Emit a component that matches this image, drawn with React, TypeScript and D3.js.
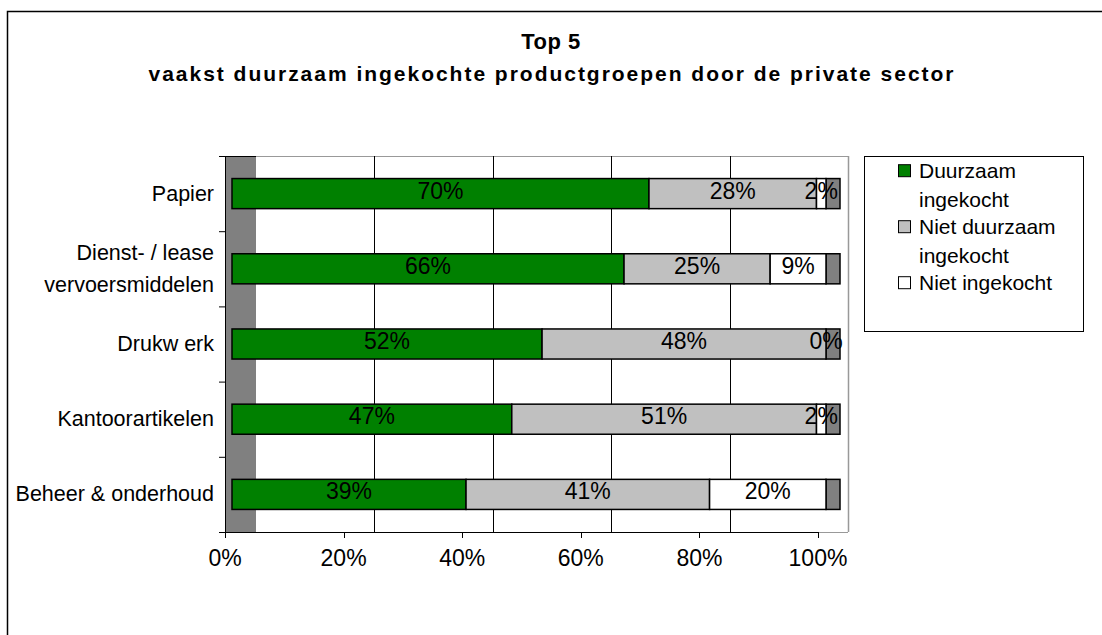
import React from "react";
import * as d3 from "d3";

// data (percentages)
const categories = [
  "Papier",
  "Dienst- / lease\nvervoersmiddelen",
  "Drukw erk",
  "Kantoorartikelen",
  "Beheer & onderhoud",
];
const duurzaam = [70.2, 66.0, 52.2, 47.1, 39.4];
const nietDuurzaam = [28.2, 24.6, 47.8, 51.3, 41.0];
const nietIngekocht = [1.6, 9.4, 0, 1.6, 19.6];
const xTicks = [0, 20, 40, 60, 80, 100];
const seriesKeys = ["duurzaam", "nietDuurzaam", "nietIngekocht"];
const seriesLabels = ["Duurzaam\ningekocht", "Niet duurzaam\ningekocht", "Niet ingekocht"];
const seriesColors = ["#008000", "#C0C0C0", "#FFFFFF"];

const FONT = "'Liberation Sans', Arial, sans-serif";
const W = 1102;
const H = 635;

const App: React.FC = () => {
  const top = 156;
  const bottom = 532;
  const depth = 14;

  const y = d3.scaleBand().domain(categories).range([top, bottom]).paddingInner(0.6).paddingOuter(0.3);
  const yEdges = d3.scaleBand().domain(categories).range([top, bottom]);
  const xAxis = d3.scaleLinear().domain([0, 100]).range([225, 818]);
  const xBack = d3.scaleLinear().domain([0, 100]).range([256, 848]);
  const xBar = d3.scaleLinear().domain([0, 100]).range([232, 826]);

  const rows = categories.map((c, i) => ({
    cat: c,
    duurzaam: duurzaam[i],
    nietDuurzaam: nietDuurzaam[i],
    nietIngekocht: nietIngekocht[i],
  }));
  const stacked = d3.stack<any>().keys(seriesKeys)(rows);
  const fmt = (v: number) => Math.round(v) + "%";

  return (
    <svg
      width={W}
      height={H}
      style={{ position: "absolute", left: 0, top: 0, background: "#fff" }}
      fontFamily={FONT}
    >
      <rect x={7.5} y={11.5} width={W + 20} height={H + 20} fill="#fff" stroke="#000" strokeWidth={1.5} />

      {/* title */}
      <text x={551} y={49} textAnchor="middle" fontSize={22} fontWeight="bold" letterSpacing={0.5}>
        Top 5
      </text>
      <text x={551} y={81} textAnchor="middle" fontSize={21} fontWeight="bold" textLength={805} lengthAdjust="spacing">
        vaakst duurzaam ingekochte productgroepen door de private sector
      </text>

      {/* left wall */}
      <rect x={xAxis(0)} y={top} width={xBack(0) - xAxis(0)} height={bottom - top} fill="#808080" />
      {/* back wall border */}
      <line x1={xBack(0)} x2={xBack(100)} y1={top + 0.5} y2={top + 0.5} stroke="#999" />
      <line x1={xBack(100) + 0.5} x2={xBack(100) + 0.5} y1={top} y2={bottom} stroke="#999" strokeWidth={1.5} />
      <line x1={xAxis(100)} x2={xBack(100)} y1={bottom + 0.5} y2={bottom + 0.5} stroke="#999" />
      <line x1={xAxis(0)} x2={xBack(0)} y1={top + 0.5} y2={top + 0.5} stroke="#000" />

      {/* gridlines */}
      {xTicks.slice(1, -1).map((t) => (
        <line key={t} x1={Math.round(xBack(t)) + 0.5} x2={Math.round(xBack(t)) + 0.5} y1={top} y2={bottom} stroke="#000" />
      ))}

      {/* bars */}
      {rows.map((r, i) => {
        const by = y(r.cat)!;
        const bh = y.bandwidth();
        return (
          <g key={r.cat}>
            <rect x={xBar(100)} y={by} width={depth} height={bh} fill="#808080" stroke="#000" strokeWidth={1.5} />
            {stacked.map((s, k) => {
              const [a, b] = s[i];
              return (
                <rect
                  key={k}
                  x={xBar(a)}
                  y={by}
                  width={xBar(b) - xBar(a)}
                  height={bh}
                  fill={seriesColors[k]}
                  stroke="#000"
                  strokeWidth={1.5}
                />
              );
            })}
            {stacked.map((s, k) => {
              const [a, b] = s[i];
              return (
                <text
                  key={"t" + k}
                  x={(xBar(a) + xBar(b)) / 2}
                  y={by + bh / 2 + 5}
                  textAnchor="middle"
                  fontSize={23}
                  fill="#000"
                >
                  {fmt(b - a)}
                </text>
              );
            })}
          </g>
        );
      })}

      {/* axes */}
      <line x1={xAxis(0) + 0.5} x2={xAxis(0) + 0.5} y1={top} y2={bottom + 6} stroke="#000" />
      <line x1={xAxis(0) - 6} x2={xAxis(100)} y1={bottom + 0.5} y2={bottom + 0.5} stroke="#000" />
      {categories.map((c) => (
        <line key={c} x1={xAxis(0) - 6} x2={xAxis(0)} y1={yEdges(c)! + 0.5} y2={yEdges(c)! + 0.5} stroke="#000" />
      ))}
      {xTicks.map((t) => (
        <g key={t}>
          <line x1={Math.round(xAxis(t)) + 0.5} x2={Math.round(xAxis(t)) + 0.5} y1={bottom} y2={bottom + 6} stroke="#000" />
          <text x={xAxis(t)} y={566} textAnchor="middle" fontSize={23}>
            {t + "%"}
          </text>
        </g>
      ))}
      {categories.map((c) => {
        const lines = c.split("\n");
        const cy = y(c)! + y.bandwidth() / 2;
        return (
          <text key={c} x={214} textAnchor="end" fontSize={21.5}>
            {lines.map((l, j) => (
              <tspan key={j} x={214} y={cy + 7 + (j - (lines.length - 1) / 2) * 32}>
                {l}
              </tspan>
            ))}
          </text>
        );
      })}

      {/* legend */}
      <rect x={864.5} y={156.5} width={219} height={175} fill="#fff" stroke="#000" />
      {seriesLabels.map((lab, k) => {
        const ly = 170.7 + k * 56;
        return (
          <g key={lab}>
            <rect x={898.5} y={ly - 6} width={12} height={12} fill={seriesColors[k]} stroke="#000" />
            <text fontSize={21}>
              {lab.split("\n").map((l, j) => (
                <tspan key={j} x={919} y={ly + 7.5 + j * 28.5}>
                  {l}
                </tspan>
              ))}
            </text>
          </g>
        );
      })}
    </svg>
  );
};

export default App;
